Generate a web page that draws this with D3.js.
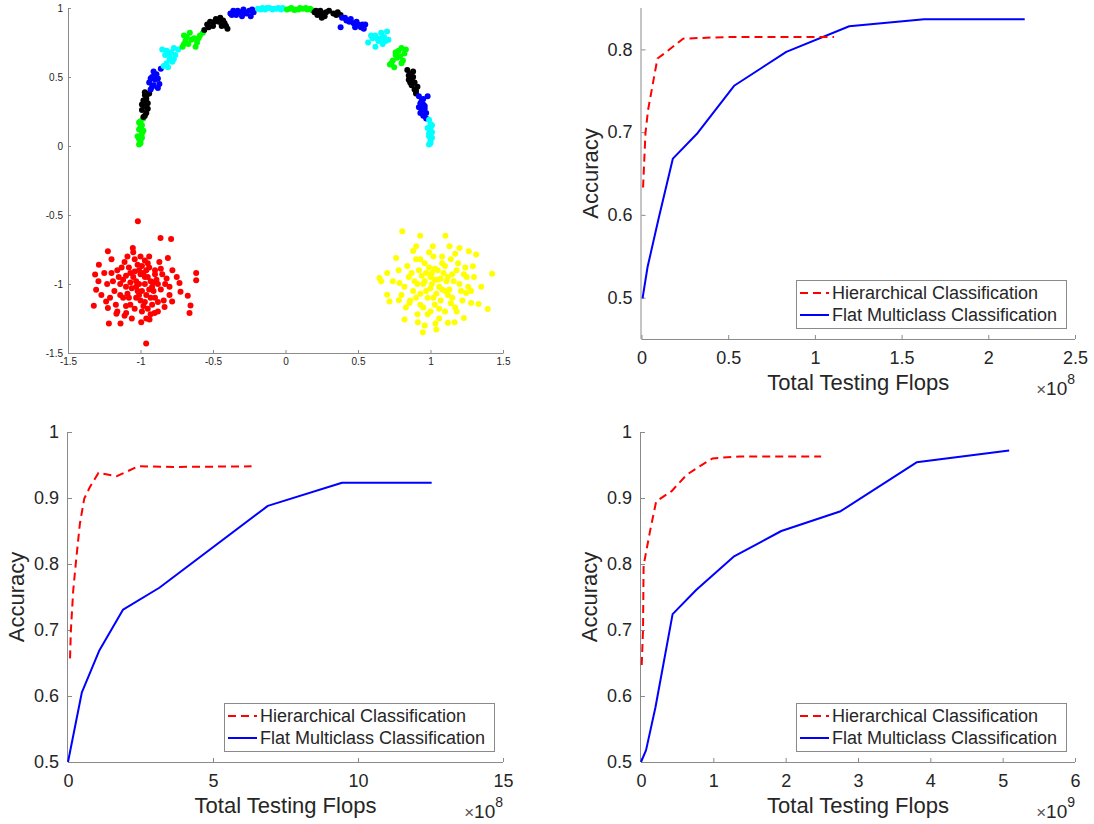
<!DOCTYPE html>
<html>
<head>
<meta charset="utf-8">
<script src="https://cdn.jsdelivr.net/npm/d3@7"></script>
<style>
  body { margin: 0; background: #fff; }
  svg { display: block; font-family: "Liberation Sans", Helvetica, Arial, sans-serif; }
</style>
</head>
<body>
<div id="vis"></div>
<script>
'use strict';

// ---- scatter panel (top left): 16 arc clusters + two gaussian blobs ----
var scatterXTicks = [-1.5, -1, -0.5, 0, 0.5, 1, 1.5];
var scatterYTicks = [-1.5, -1, -0.5, 0, 0.5, 1];

var arcClusters = [
  [[-1.01,0.01],[-1.0,0.04],[-1.02,0.07],[-0.99,0.09],[-1.01,0.12],[-0.99,0.15],[-1.0,0.18],[-0.98,0.2],[-1.01,0.05],[-0.98,0.11],[-1.0,0.02],[-1.0,0.14],[-0.99,0.06],[-1.01,0.17]],
  [[-0.98,0.21],[-0.96,0.24],[-0.99,0.26],[-0.97,0.29],[-0.95,0.31],[-0.98,0.33],[-0.96,0.36],[-0.94,0.38],[-0.97,0.39],[-0.95,0.27],[-0.97,0.22],[-0.99,0.3],[-0.96,0.34],[-0.97,0.37]],
  [[-0.93,0.41],[-0.91,0.44],[-0.94,0.46],[-0.9,0.48],[-0.92,0.5],[-0.89,0.52],[-0.91,0.54],[-0.87,0.45],[-0.86,0.56],[-0.88,0.49],[-0.92,0.43],[-0.93,0.49],[-0.9,0.51],[-0.88,0.42]],
  [[-0.84,0.58],[-0.82,0.6],[-0.8,0.63],[-0.78,0.61],[-0.83,0.66],[-0.79,0.68],[-0.76,0.66],[-0.74,0.7],[-0.85,0.7],[-0.77,0.71],[-0.81,0.57],[-0.8,0.66],[-0.77,0.63],[-0.82,0.69]],
  [[-0.71,0.72],[-0.69,0.76],[-0.67,0.74],[-0.7,0.8],[-0.66,0.82],[-0.63,0.78],[-0.61,0.75],[-0.59,0.8],[-0.57,0.82],[-0.62,0.72],[-0.7,0.74],[-0.65,0.77],[-0.6,0.78],[-0.68,0.79]],
  [[-0.56,0.84],[-0.54,0.88],[-0.52,0.9],[-0.5,0.87],[-0.48,0.92],[-0.46,0.9],[-0.44,0.87],[-0.42,0.89],[-0.4,0.85],[-0.45,0.93],[-0.53,0.86],[-0.49,0.9],[-0.43,0.91],[-0.41,0.87]],
  [[-0.38,0.96],[-0.36,0.98],[-0.34,0.95],[-0.31,0.97],[-0.29,0.99],[-0.27,0.96],[-0.25,0.98],[-0.22,0.97],[-0.24,0.94],[-0.3,0.94],[-0.37,0.95],[-0.33,0.98],[-0.28,0.97],[-0.23,0.99]],
  [[-0.19,0.995],[-0.16,1.0],[-0.14,0.99],[-0.11,1.0],[-0.08,0.995],[-0.05,1.0],[-0.03,0.99],[-0.17,0.99],[-0.13,1.0],[-0.09,0.99],[-0.06,0.995],[-0.02,1.0]],
  [[0.01,0.99],[0.04,1.0],[0.07,0.99],[0.1,1.0],[0.12,0.995],[0.15,0.99],[0.18,0.985],[0.06,0.985],[0.03,0.995],[0.09,0.99],[0.14,1.0],[0.17,0.995]],
  [[0.2,0.97],[0.22,0.95],[0.24,0.98],[0.26,0.96],[0.28,0.97],[0.25,0.93],[0.33,0.96],[0.36,0.97],[0.38,0.95],[0.3,0.98],[0.21,0.98],[0.23,0.96],[0.27,0.94],[0.35,0.95]],
  [[0.39,0.93],[0.42,0.91],[0.45,0.92],[0.47,0.89],[0.5,0.88],[0.52,0.86],[0.54,0.85],[0.55,0.88],[0.38,0.86],[0.48,0.86],[0.41,0.93],[0.44,0.9],[0.49,0.9],[0.53,0.88]],
  [[0.57,0.75],[0.6,0.78],[0.62,0.8],[0.64,0.76],[0.66,0.82],[0.68,0.79],[0.7,0.83],[0.62,0.72],[0.67,0.74],[0.71,0.77],[0.59,0.8],[0.63,0.78],[0.66,0.78],[0.69,0.76]],
  [[0.72,0.59],[0.74,0.62],[0.76,0.66],[0.78,0.69],[0.8,0.71],[0.82,0.67],[0.81,0.62],[0.75,0.57],[0.83,0.7],[0.77,0.64],[0.73,0.6],[0.79,0.65],[0.76,0.68],[0.8,0.6]],
  [[0.84,0.55],[0.86,0.52],[0.85,0.48],[0.88,0.5],[0.87,0.44],[0.89,0.41],[0.9,0.38],[0.86,0.46],[0.91,0.43],[0.88,0.54],[0.85,0.51],[0.87,0.49],[0.89,0.46],[0.9,0.4]],
  [[0.92,0.36],[0.95,0.34],[0.93,0.31],[0.96,0.29],[0.94,0.26],[0.97,0.24],[0.95,0.22],[0.98,0.36],[0.92,0.28],[0.97,0.2],[0.94,0.33],[0.96,0.27],[0.93,0.24],[0.95,0.3]],
  [[0.99,0.19],[1.0,0.16],[0.98,0.13],[1.01,0.1],[0.99,0.07],[1.0,0.04],[0.99,0.01],[1.01,0.15],[1.0,0.12],[0.99,0.09],[1.01,0.06],[1.0,0.02]]
];

var redBlob = [
  [-1.018,-0.546],[-0.862,-0.667],[-0.789,-0.674],[-1.225,-0.763],[-0.616,-0.92],[-0.616,-0.973],
  [-1.322,-1.157],[-1.218,-1.287],[-1.138,-1.287],[-0.961,-1.432],[-0.655,-1.155],[-0.662,-1.21],
  [-0.674,-1.085],[-0.724,-1.056],[-0.782,-1.126],[-0.731,-0.993],[-0.834,-1.167],[-1.287,-0.86],
  [-1.306,-1.041],[-1.313,-0.932],[-1.237,-1.126],[-1.225,-1.174],[-1.166,-1.215],[-1.099,-1.21],
  [-0.995,-1.278],[-0.938,-1.258],[-0.903,-1.21],[-1.053,-0.739],[-0.811,-0.812],
  [-1.05,-0.95],[-0.98,-0.92],[-0.93,-0.98],[-1.1,-1.02],[-1.02,-1.05],[-0.96,-1.08],[-0.9,-0.9],
  [-1.15,-0.95],[-1.08,-0.88],[-0.95,-0.85],[-0.88,-1.0],[-1.0,-1.12],[-1.12,-1.1],[-0.92,-1.15],
  [-1.04,-0.82],[-0.85,-0.93],[-1.18,-1.05],[-0.97,-1.0],[-1.03,-0.98],[-0.99,-1.2],[-1.07,-1.15],
  [-0.91,-1.05],[-1.13,-0.88],[-0.87,-0.84],[-0.82,-0.96],[-1.2,-0.92],[-1.0,-0.8],[-0.94,-0.8],
  [-1.09,-0.8],[-0.8,-1.08],[-0.84,-1.12],[-1.06,-1.25],[-0.93,-1.22],[-1.17,-1.15],[-1.23,-1.0],
  [-1.25,-0.92],[-0.78,-0.9],[-0.9,-1.1],[-1.01,-0.9],[-1.06,-1.03],[-0.95,-0.95],[-1.14,-1.0],
  [-1.03,-1.1],[-0.89,-0.97],[-0.97,-1.13],[-1.1,-0.94],[-0.86,-1.04],[-1.16,-1.2],[-0.99,-0.87],
  [-1.27,-1.08],[-0.96,-0.9],[-1.01,-1.0],[-0.92,-1.02],[-1.09,-1.07],[-0.98,-1.16],[-1.11,-0.84],
  [-1.12,-0.97],[-0.94,-0.88],[-1.04,-1.18],[-0.88,-1.13],[-1.19,-0.98],[-0.83,-1.0],[-1.07,-0.92],
  [-0.97,-0.95],[-1.02,-0.86],[-0.9,-0.93],[-1.14,-1.08],[-0.99,-1.05],[-1.08,-1.1],[-0.95,-1.18],
  [-1.21,-1.1],[-0.86,-0.89],[-1.05,-0.77],[-0.93,-1.1],[-1.1,-1.16],[-1.0,-0.93],[-0.97,-0.83],
  [-1.16,-0.9],[-0.91,-0.99],[-1.03,-1.02],[-1.29,-0.98],[-0.8,-1.02],[-0.75,-0.95],[-1.11,-1.23],
  [-0.88,-1.2],[-1.2,-0.82],[-0.96,-1.25],[-1.04,-0.91],[-1.01,-1.08],[-0.94,-1.04],[-1.07,-0.99]
];

var yellowBlob = [
  [0.805,-0.618],[0.929,-0.65],[1.103,-0.65],[0.901,-0.727],[1.131,-0.727],[1.2,-0.739],[1.264,-0.763],
  [1.315,-0.787],[1.425,-0.925],[0.648,-0.957],[0.66,-0.98],[0.701,-1.077],[0.717,-1.126],[0.782,-1.118],
  [0.821,-1.258],[0.913,-1.278],[0.947,-1.35],[1.034,-1.287],[1.166,-1.278],[1.23,-1.246],[1.331,-1.145],
  [1.395,-1.181],[1.28,-1.138],[1.292,-0.872],[0.763,-0.812],[0.701,-0.92],[0.786,-0.993],[0.855,-1.138],
  [1.246,-1.065],[1.016,-0.727],
  [1.0,-0.95],[1.05,-0.9],[0.95,-1.0],[1.1,-1.05],[0.92,-0.9],[1.08,-0.85],[0.98,-1.1],[1.12,-0.95],
  [0.88,-1.05],[1.03,-1.15],[1.15,-1.1],[0.9,-0.82],[1.18,-0.9],[0.96,-0.85],[1.06,-1.02],[0.85,-0.95],
  [1.2,-1.0],[1.0,-1.2],[0.93,-1.15],[1.1,-1.2],[1.14,-0.82],[0.82,-1.02],[1.25,-0.95],[1.02,-0.8],
  [0.97,-1.05],[1.07,-1.12],[1.22,-1.12],[0.86,-1.12],[1.17,-1.17],[0.94,-0.94],[1.04,-1.07],[1.11,-0.98],
  [0.99,-0.88],[0.89,-0.98],[1.13,-1.04],[1.01,-1.0],[1.19,-0.85],[0.78,-0.9],[1.28,-1.05],[0.91,-1.22],
  [1.09,-0.92],[1.24,-0.88],[0.84,-0.87],[1.06,-1.25],[0.96,-1.3],[1.03,-0.97],[0.93,-1.07],[1.15,-0.93],
  [1.05,-0.97],[0.97,-0.92],[1.12,-1.08],[0.9,-1.1],[1.16,-0.98],[1.08,-0.8],[0.95,-1.17],[1.02,-1.1],
  [0.87,-0.92],[1.21,-1.05],[1.0,-1.03],[1.14,-1.14],[0.93,-0.82],[1.26,-1.02],[1.07,-0.96],[0.98,-1.22],
  [1.18,-1.2],[0.8,-1.08],[1.1,-0.87],[1.03,-0.89],[0.91,-1.0],[1.23,-0.93],[1.06,-1.18],[0.83,-1.17],
  [1.3,-0.95],[0.99,-0.77],[1.17,-0.78],[0.88,-0.76],[1.12,-1.28],[1.04,-1.33],[1.35,-1.02],[0.74,-0.98],
  [1.08,-1.04],[0.96,-0.98],[1.01,-0.92]
];

// ---- accuracy vs flops panels ----
var legendLabels = ['Hierarchical Classification', 'Flat Multiclass Classification'];

// top right (x in units of 1e8)
var trHierX = [0.009, 0.023, 0.038, 0.092, 0.144, 0.24, 0.5, 0.8, 1.11];
var trHierY = [0.633, 0.699, 0.727, 0.789, 0.797, 0.813, 0.815, 0.815, 0.815];
var trFlatX = [0.006, 0.035, 0.098, 0.181, 0.324, 0.534, 0.835, 1.198, 1.63, 2.21];
var trFlatY = [0.499, 0.537, 0.595, 0.668, 0.699, 0.756, 0.797, 0.828, 0.8365, 0.8365];
var trXTicks = [0, 0.5, 1, 1.5, 2, 2.5];
var trYTicks = [0.5, 0.6, 0.7, 0.8];

// bottom left (x in units of 1e8)
var blHierX = [0.07, 0.1, 0.18, 0.28, 0.41, 0.56, 0.76, 1.05, 1.68, 2.42, 3.63, 6.33];
var blHierY = [0.657, 0.70, 0.76, 0.806, 0.861, 0.899, 0.917, 0.938, 0.933, 0.948, 0.947, 0.948];
var blFlatX = [0, 0.475, 1.07, 1.9, 3.15, 6.89, 9.45, 12.54];
var blFlatY = [0.5, 0.605, 0.668, 0.731, 0.764, 0.888, 0.923, 0.923];
var blXTicks = [0, 5, 10, 15];
var blYTicks = [0.5, 0.6, 0.7, 0.8, 0.9, 1];

// bottom right (x in units of 1e9)
var brHierX = [0.01, 0.028, 0.036, 0.129, 0.21, 0.42, 0.63, 0.81, 0.99, 1.36, 2.49];
var brHierY = [0.647, 0.70, 0.798, 0.852, 0.895, 0.91, 0.935, 0.948, 0.96, 0.963, 0.963];
var brFlatX = [0, 0.07, 0.2, 0.437, 0.766, 1.28, 1.94, 2.76, 3.81, 5.09];
var brFlatY = [0.5, 0.518, 0.583, 0.724, 0.761, 0.811, 0.850, 0.880, 0.954, 0.972];
var brXTicks = [0, 1, 2, 3, 4, 5, 6];
var brYTicks = [0.5, 0.6, 0.7, 0.8, 0.9, 1];

// ---- styles ----
var axisGray = '#8a8a8a';
var textDark = '#262626';
var clusterColors = ['#00ff00', '#000000', '#0000ff', '#00ffff'];

var svg = d3.select('#vis').append('svg')
  .attr('width', 1094)
  .attr('height', 824);

function styleAxis(g, fontSize) {
  g.select('.domain').attr('stroke', axisGray).attr('stroke-width', 1);
  g.selectAll('.tick line').attr('stroke', axisGray);
  g.selectAll('.tick text')
    .attr('fill', textDark)
    .style('font-size', fontSize + 'px')
    .style('font-family', '"Liberation Sans", Helvetica, Arial, sans-serif');
}

// ================= scatter panel =================
(function () {
  var x = d3.scaleLinear().domain([-1.5, 1.5]).range([68, 503]);
  var y = d3.scaleLinear().domain([-1.5, 1]).range([353, 8]);

  var gx = svg.append('g').attr('transform', 'translate(0,' + y(-1.5) + ')')
    .call(d3.axisBottom(x).tickValues(scatterXTicks).tickFormat(String)
      .tickSizeInner(-3).tickSizeOuter(0).tickPadding(5));
  styleAxis(gx, 10);

  var gy = svg.append('g').attr('transform', 'translate(' + x(-1.5) + ',0)')
    .call(d3.axisLeft(y).tickValues(scatterYTicks).tickFormat(String)
      .tickSizeInner(-3).tickSizeOuter(0).tickPadding(5));
  styleAxis(gy, 10);

  var r = 3;
  var dots = svg.append('g');
  arcClusters.forEach(function (pts, i) {
    dots.selectAll(null).data(pts).enter().append('circle')
      .attr('cx', function (d) { return x(d[0]); })
      .attr('cy', function (d) { return y(d[1]); })
      .attr('r', r)
      .attr('fill', clusterColors[i % 4]);
  });
  dots.selectAll(null).data(redBlob).enter().append('circle')
    .attr('cx', function (d) { return x(d[0]); })
    .attr('cy', function (d) { return y(d[1]); })
    .attr('r', r).attr('fill', '#ff0000');
  dots.selectAll(null).data(yellowBlob).enter().append('circle')
    .attr('cx', function (d) { return x(d[0]); })
    .attr('cy', function (d) { return y(d[1]); })
    .attr('r', r).attr('fill', '#ffff00');
})();

// ================= accuracy panels =================
function drawPanel(o) {
  var x = d3.scaleLinear().domain(o.xDomain).range([o.left, o.right]);
  var y = d3.scaleLinear().domain(o.yDomain).range([o.bottom, o.top]);
  var g = svg.append('g');

  var gx = g.append('g').attr('transform', 'translate(0,' + o.bottom + ')')
    .call(d3.axisBottom(x).tickValues(o.xTicks).tickFormat(String)
      .tickSizeInner(-4).tickSizeOuter(0).tickPadding(12));
  styleAxis(gx, 18);
  gx.select('.domain').attr('d', 'M' + o.left + ',0.5H' + o.right);

  var gy = g.append('g').attr('transform', 'translate(' + o.left + ',0)')
    .call(d3.axisLeft(y).tickValues(o.yTicks).tickFormat(String)
      .tickSizeInner(-4).tickSizeOuter(0).tickPadding(9));
  styleAxis(gy, 18);
  gy.select('.domain').attr('d', 'M-0.5,' + o.top + 'V' + o.bottom);

  var line = d3.line()
    .x(function (d) { return x(d[0]); })
    .y(function (d) { return y(d[1]); });

  g.append('path')
    .datum(d3.zip(o.flatX, o.flatY))
    .attr('d', line)
    .attr('fill', 'none').attr('stroke', '#0000ff').attr('stroke-width', 2)
    .attr('stroke-linejoin', 'round');

  g.append('path')
    .datum(d3.zip(o.hierX, o.hierY))
    .attr('d', line)
    .attr('fill', 'none').attr('stroke', '#ff0000').attr('stroke-width', 2)
    .attr('stroke-dasharray', '8,5');

  // axis titles
  g.append('text')
    .attr('x', (o.left + o.right) / 2).attr('y', o.bottom + 51)
    .attr('text-anchor', 'middle').attr('fill', textDark)
    .style('font-size', '22px')
    .text('Total Testing Flops');

  g.append('text')
    .attr('transform', 'translate(' + (o.left - 44) + ',' + ((o.top + o.bottom) / 2) + ') rotate(-90)')
    .attr('text-anchor', 'middle').attr('fill', textDark)
    .style('font-size', '22px')
    .text('Accuracy');

  // exponent label
  var ex = g.append('text')
    .attr('x', o.right).attr('y', o.bottom + 56)
    .attr('text-anchor', 'end').attr('fill', textDark)
    .style('font-size', '19px');
  ex.append('tspan').style('font-size', '17px').attr('fill', '#555').text('\u00d7');
  ex.append('tspan').text('10');
  ex.append('tspan').attr('dy', -11).style('font-size', '14px').text(o.exponent);

  // legend
  var lw = 270, lh = 48;
  var lx = o.right - 9 - lw, ly = o.bottom - 11 - lh;
  var lg = g.append('g');
  lg.append('rect')
    .attr('x', lx + 0.5).attr('y', ly + 0.5)
    .attr('width', lw).attr('height', lh)
    .attr('fill', '#fff').attr('stroke', axisGray).attr('stroke-width', 1);
  var rows = [{ c: '#ff0000', dash: '8,5' }, { c: '#0000ff', dash: null }];
  rows.forEach(function (row, i) {
    var cy = ly + 13 + i * 22;
    lg.append('line')
      .attr('x1', lx + 4).attr('x2', lx + 33)
      .attr('y1', cy).attr('y2', cy)
      .attr('stroke', row.c).attr('stroke-width', 2)
      .attr('stroke-dasharray', row.dash);
    lg.append('text')
      .attr('x', lx + 36).attr('y', cy).attr('dy', '0.36em')
      .attr('fill', textDark)
      .style('font-size', '18px')
      .text(legendLabels[i]);
  });
}

drawPanel({
  left: 641.5, right: 1075, top: 8, bottom: 339,
  xDomain: [0, 2.5], yDomain: [0.45, 0.85],
  xTicks: trXTicks, yTicks: trYTicks, exponent: '8',
  hierX: trHierX, hierY: trHierY, flatX: trFlatX, flatY: trFlatY
});

drawPanel({
  left: 68, right: 503, top: 432, bottom: 762,
  xDomain: [0, 15], yDomain: [0.5, 1],
  xTicks: blXTicks, yTicks: blYTicks, exponent: '8',
  hierX: blHierX, hierY: blHierY, flatX: blFlatX, flatY: blFlatY
});

drawPanel({
  left: 641, right: 1075, top: 432, bottom: 762,
  xDomain: [0, 6], yDomain: [0.5, 1],
  xTicks: brXTicks, yTicks: brYTicks, exponent: '9',
  hierX: brHierX, hierY: brHierY, flatX: brFlatX, flatY: brFlatY
});
</script>
</body>
</html>
